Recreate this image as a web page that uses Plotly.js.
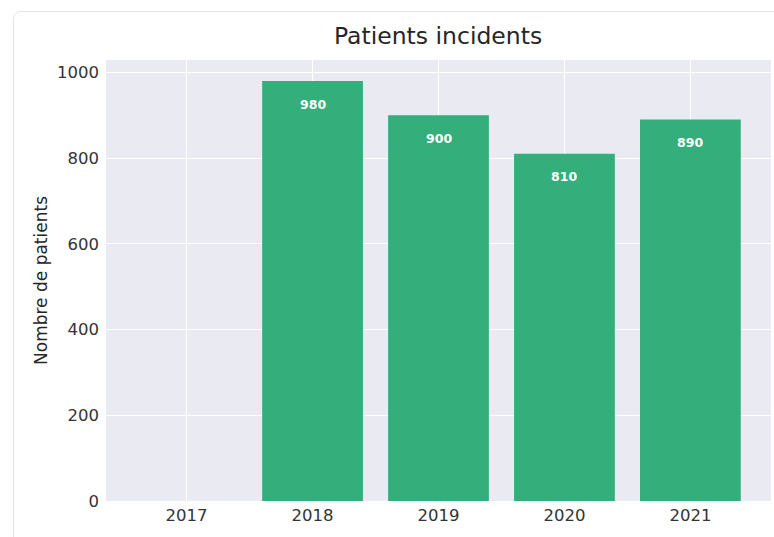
<!DOCTYPE html>
<html>
<head>
<meta charset="utf-8">
<script src="https://cdn.plot.ly/plotly-3.0.1.min.js"></script>
<style>
  html, body { margin: 0; padding: 0; background: #ffffff; }
  #wrap { position: relative; width: 774px; height: 537px; overflow: hidden; }
  #chart { width: 774px; height: 537px; }
  #frame { position: absolute; left: 13px; top: 11px; width: 800px; height: 600px;
           border: 1px solid #e4e4e8; border-radius: 8px; pointer-events: none; }
</style>
</head>
<body>
<div id="wrap">
  <div id="chart"></div>
  <div id="frame"></div>
</div>
<script>
const years = ['2017', '2018', '2019', '2020', '2021'];
const patients = [0, 980, 900, 810, 890];
const labelYears = ['2018', '2019', '2020', '2021'];
const labelValues = [980, 900, 810, 890];

const trace = {
  type: 'bar',
  x: years,
  y: patients,
  width: 0.8,
  marker: { color: '#34ae7b', line: { width: 0 } },
  hoverinfo: 'x+y'
};

const annotations = labelYears.map((yr, i) => ({
  x: years.indexOf(yr),
  y: labelValues[i],
  xref: 'x',
  yref: 'y',
  text: '<b>' + String(labelValues[i]) + '</b>',
  showarrow: false,
  yshift: -23,
  font: { family: 'DejaVu Sans', size: 12.5, color: '#ffffff' }
}));

const layout = {
  width: 774,
  height: 537,
  margin: { l: 106, r: 3, t: 60, b: 36, pad: 0 },
  paper_bgcolor: '#ffffff',
  plot_bgcolor: '#eaeaf2',
  showlegend: false,
  title: {
    text: 'Patients incidents',
    x: 0.566,
    xanchor: 'center',
    y: 0.933,
    yanchor: 'middle',
    font: { family: 'DejaVu Sans', size: 23.5, color: '#262626' }
  },
  xaxis: {
    type: 'category',
    range: [-0.64, 4.64],
    showgrid: true,
    gridcolor: '#ffffff',
    gridwidth: 1,
    zeroline: false,
    showline: false,
    ticks: '',
    ticklabelstandoff: 2,
    tickfont: { family: 'DejaVu Sans', size: 16.5, color: '#333333' }
  },
  yaxis: {
    range: [0, 1029],
    tickvals: [0, 200, 400, 600, 800, 1000],
    showgrid: true,
    gridcolor: '#ffffff',
    gridwidth: 1,
    zeroline: false,
    showline: false,
    ticks: '',
    ticklabelstandoff: 6,
    tickfont: { family: 'DejaVu Sans', size: 16.5, color: '#333333' },
    title: {
      text: 'Nombre de patients',
      standoff: 5,
      font: { family: 'DejaVu Sans', size: 17, color: '#262626' }
    }
  },
  annotations: annotations
};

Plotly.newPlot('chart', [trace], layout, { displayModeBar: false, staticPlot: true });
</script>
</body>
</html>
